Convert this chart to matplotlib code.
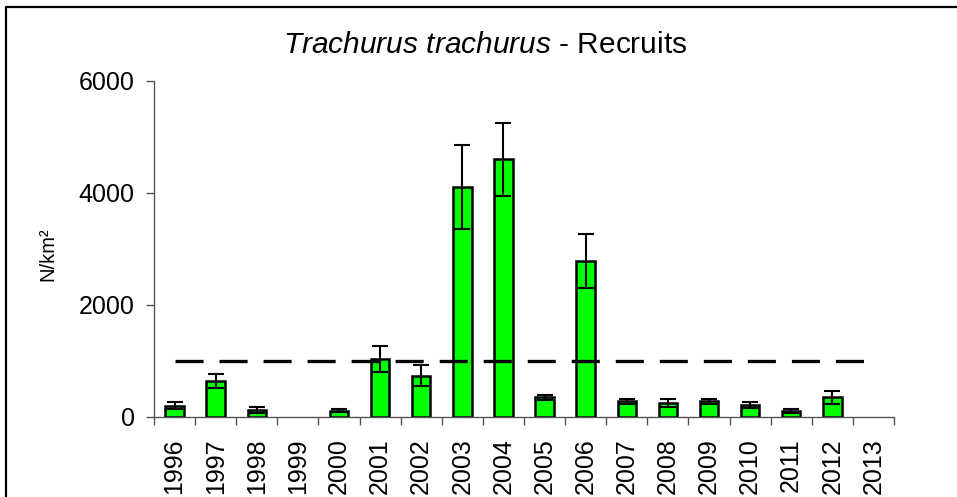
import numpy as np
import matplotlib
matplotlib.use("Agg")
import matplotlib.pyplot as plt
from matplotlib.lines import Line2D

# -----------------------------
# Data
# -----------------------------
years = ["1996", "1997", "1998", "1999", "2000", "2001", "2002", "2003", "2004",
         "2005", "2006", "2007", "2008", "2009", "2010", "2011", "2012", "2013"]
recruits = [200, 640, 130, np.nan, 110, 1030, 740, 4100, 4600,
            350, 2780, 280, 250, 280, 210, 110, 350, np.nan]
recruits_err = [60, 120, 50, np.nan, 25, 230, 190, 750, 650,
                50, 480, 40, 65, 45, 50, 30, 120, np.nan]
ref_level = 1000

# -----------------------------
# Style
# -----------------------------
plt.rcParams['font.family'] = ['Liberation Sans', 'DejaVu Sans']
plt.rcParams['mathtext.fontset'] = 'custom'
plt.rcParams['mathtext.rm'] = 'Liberation Sans'
plt.rcParams['mathtext.it'] = 'Liberation Sans:italic'

W, H = 957, 497
fig = plt.figure(figsize=(W/100, H/100), dpi=100)
ax = fig.add_axes([154/W, 1 - 417/H, (894 - 154)/W, (417 - 81)/H])

x = np.arange(len(years))
ax.bar(x, recruits, width=0.45, color="#00ff00", edgecolor="black",
       linewidth=1.8, zorder=2)
ax.errorbar(x, recruits, yerr=recruits_err, fmt="none", ecolor="black",
            elinewidth=1.5, capsize=5.5, capthick=1.5, zorder=3)

ref_line, = ax.plot(x, [ref_level]*len(x), color="black", lw=2.4, zorder=4)
ref_line.set_dashes((20.2/2.4, 11.5/2.4))

ax.set_xlim(-0.5, len(years) - 0.5)
ax.set_ylim(0, 6000)
ax.set_yticks([0, 2000, 4000, 6000])

# labels at category centres, tick marks at the boundaries
ax.set_xticks(x)
ax.set_xticklabels(years, rotation=90, fontsize=18)
ax.set_xticks(np.arange(-0.5, len(years)), minor=True)
ax.tick_params(axis="x", which="major", length=0, pad=15.5)
ax.tick_params(axis="x", which="minor", length=6, width=1, color="#555555")
ax.tick_params(axis="y", length=6, width=1, color="#555555", pad=8, labelsize=18)

for s in ["top", "right"]:
    ax.spines[s].set_visible(False)
for s in ["left", "bottom"]:
    ax.spines[s].set_color("#555555")
    ax.spines[s].set_linewidth(1)

fig.text(48/W, 1 - 254/H, "N/km²", rotation=90, ha="center", va="center",
         fontsize=14.5)

fig.text(485/W, 1 - 45/H, r"$\it{Trachurus\ trachurus}$ - Recruits",
         ha="center", va="center", fontsize=21.5)

# chart-area frame (only left and top edges visible in the crop)
fig.add_artist(Line2D([6/W, 6/W, 1], [0, 1 - 7/H, 1 - 7/H],
                      transform=fig.transFigure, color="black", lw=1.6))

fig.savefig("out.png", dpi=100)
